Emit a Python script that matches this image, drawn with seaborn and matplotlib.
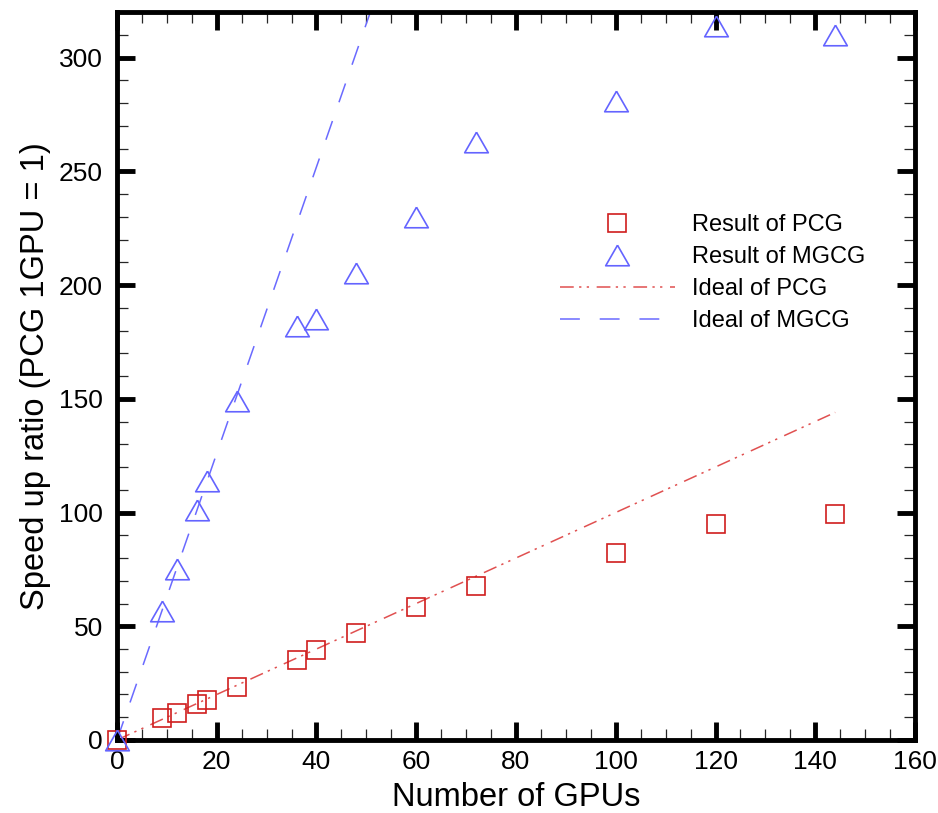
import matplotlib
matplotlib.use("Agg")
import matplotlib.pyplot as plt
import seaborn as sns
from matplotlib.ticker import MultipleLocator

# ---- data ----
gpus = [0, 9, 12, 16, 18, 24, 36, 40, 48, 60, 72, 100, 120, 144]
pcg_speedup = [0, 9.5, 12, 16, 17.6, 23.5, 35.3, 39.5, 47, 58.6, 67.7, 82, 95, 99.4]
mgcg_speedup = [0, 56.5, 75.3, 101, 113.7, 149, 182, 185, 205.3, 230, 263, 281, 314, 310]
ideal_gpus = [0, 144]
ideal_pcg = [0, 144]
ideal_mgcg = [0, 907]

x_ticks = [0, 20, 40, 60, 80, 100, 120, 140, 160]
y_ticks = [0, 50, 100, 150, 200, 250, 300]

sns.set_style("ticks")
plt.rcParams["font.family"] = ["Liberation Sans", "DejaVu Sans"]
plt.rcParams["text.color"] = "black"
plt.rcParams["axes.labelcolor"] = "black"

fig, ax = plt.subplots(figsize=(9.38, 8.13), dpi=100)
fig.subplots_adjust(left=0.1247, right=0.9755, bottom=0.0898, top=0.9852)

red_m = "#d01e1e"
blue_m = "#6464ff"
red_l = "#e05050"
blue_l = "#6a6aff"

sns.lineplot(x=ideal_gpus, y=ideal_pcg, ax=ax, color=red_l, lw=1.1,
             linestyle=(0, (9, 3.5, 1.5, 3.5, 1.5, 5)), label="Ideal of PCG", zorder=2)
sns.lineplot(x=ideal_gpus, y=ideal_mgcg, ax=ax, color=blue_l, lw=1.1,
             linestyle=(0, (13, 13)), label="Ideal of MGCG", zorder=2)

tri = [(0, 0.87), (-1, -0.87), (1, -0.87), (0, 0.87)]
sns.lineplot(x=gpus, y=pcg_speedup, ax=ax, marker="s", linestyle="none",
             markersize=13.5, markerfacecolor="none", markeredgecolor=red_m,
             markeredgewidth=1.2, label="Result of PCG", zorder=3, clip_on=False)
sns.lineplot(x=gpus, y=mgcg_speedup, ax=ax, marker=tri, linestyle="none",
             markersize=17, markerfacecolor="none", markeredgecolor=blue_m,
             markeredgewidth=1.2, label="Result of MGCG", zorder=3, clip_on=False)

ax.set_xlim(0, 160)
ax.set_ylim(0, 320)
ax.set_xticks(x_ticks)
ax.set_yticks(y_ticks)
ax.xaxis.set_minor_locator(MultipleLocator(5))
ax.yaxis.set_minor_locator(MultipleLocator(10))
ax.tick_params(which="major", direction="in", length=13, width=3.5,
               top=True, right=True, labelsize=19, pad=7, colors="black")
ax.tick_params(which="minor", direction="in", length=8, width=0.9,
               top=True, right=True)
ax.tick_params(axis="y", which="major", pad=10)
for s in ax.spines.values():
    s.set_linewidth(3.5)
    s.set_color("black")

ax.set_xlabel("Number of GPUs", fontsize=23.5, labelpad=6)
ax.set_ylabel("Speed up ratio (PCG 1GPU = 1)", fontsize=23.5, labelpad=6)

handles, labels = ax.get_legend_handles_labels()
order = ["Result of PCG", "Result of MGCG", "Ideal of PCG", "Ideal of MGCG"]
hmap = dict(zip(labels, handles))
leg = ax.legend([hmap[k] for k in order], order, loc="upper left",
                bbox_to_anchor=(0.555, 0.7225), frameon=False, fontsize=17,
                handlelength=4.87, handletextpad=0.72, labelspacing=0.42,
                borderpad=0, borderaxespad=0, numpoints=1)
for t in leg.get_texts():
    t.set_color("black")

fig.savefig("out.png", dpi=100)
